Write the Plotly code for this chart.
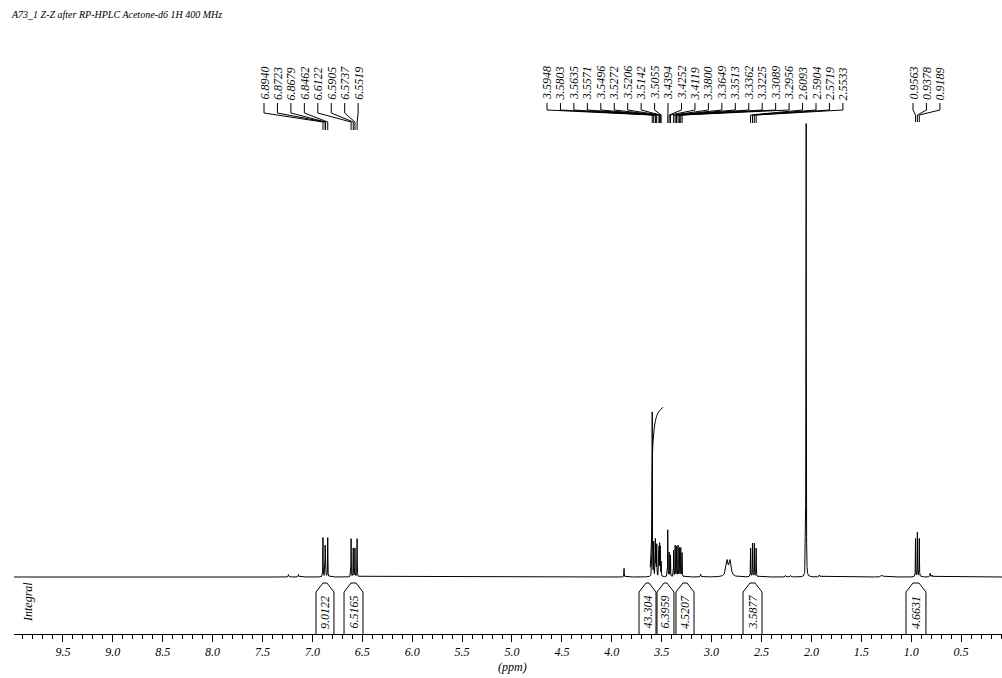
import numpy as np
import plotly.graph_objects as go

title_text = "A73_1 Z-Z after RP-HPLC Acetone-d6 1H 400 MHz"

# ---- peak list (ppm, relative height, half width) ----
peak_ppm = [7.24, 7.14,
            6.8940, 6.8723, 6.8679, 6.8462,
            6.6122, 6.5905, 6.5737, 6.5519,
            3.877,
            3.5948, 3.5803, 3.5635, 3.5571, 3.5496, 3.5272, 3.5206, 3.5142, 3.5055,
            3.4394, 3.4252, 3.4119,
            3.3800, 3.3649, 3.3513, 3.3362, 3.3225, 3.3089, 3.2956,
            3.11,
            2.845, 2.815,
            2.6093, 2.5904, 2.5719, 2.5533,
            2.26, 2.21,
            2.0522, 2.057,
            1.92, 1.29,
            0.9563, 0.9378, 0.9189,
            0.81, 0.79]
peak_height = [0.5, 0.5,
               8.2, 6.0, 6.0, 8.2,
               8.0, 6.0, 6.0, 8.0,
               1.8,
               34.5, 7.0, 7.5, 7.0, 6.5, 6.0, 6.5, 6.0, 3.0,
               9.8, 5.0, 4.5,
               5.5, 6.5, 6.3, 6.5, 6.0, 6.0, 5.0,
               0.6,
               3.2, 3.2,
               6.0, 7.0, 7.0, 6.0,
               0.3, 0.3,
               94.1, 11.0,
               0.4, 0.4,
               8.0, 9.3, 8.0,
               0.8, 0.4]
peak_width = [0.003, 0.003,
              0.0015, 0.0015, 0.0015, 0.0015,
              0.0015, 0.0015, 0.0015, 0.0015,
              0.0015,
              0.0015, 0.0015, 0.0015, 0.0015, 0.0015, 0.0015, 0.0015, 0.0015, 0.0015,
              0.0015, 0.0015, 0.0015,
              0.0015, 0.0015, 0.0015, 0.0015, 0.0015, 0.0015, 0.0015,
              0.003,
              0.012, 0.012,
              0.0015, 0.0015, 0.0015, 0.0015,
              0.004, 0.004,
              0.0013, 0.0015,
              0.004, 0.012,
              0.0015, 0.0015, 0.0015,
              0.003, 0.003]

# ---- peak picking labels ----
label_group_1 = ["6.8940", "6.8723", "6.8679", "6.8462", "6.6122", "6.5905", "6.5737", "6.5519"]
label_group_2 = ["3.5948", "3.5803", "3.5635", "3.5571", "3.5496", "3.5272", "3.5206", "3.5142",
                 "3.5055", "3.4394", "3.4252", "3.4119", "3.3800", "3.3649", "3.3513", "3.3362",
                 "3.3225", "3.3089", "3.2956", "2.6093", "2.5904", "2.5719", "2.5533"]
label_group_3 = ["0.9563", "0.9378", "0.9189"]

# ---- integrals ----
integral_labels = ["9.0122", "6.5165", "43.304", "6.3959", "4.5207", "3.5877", "4.6631"]
integral_from = [6.964, 6.683, 3.727, 3.547, 3.357, 2.685, 1.052]
integral_to = [6.784, 6.493, 3.557, 3.377, 3.176, 2.495, 0.852]

# integral curve drawn over the 3.6 ppm singlet
curve_ppm = [3.615, 3.602, 3.596, 3.590, 3.580, 3.567, 3.537, 3.487]
curve_val = [2.0, 8.0, 20.0, 27.0, 30.0, 32.3, 34.4, 35.6]

# ---- layout constants ----
W, H = 1002, 678
ML, MB = 14, 44
PLOT_H = H - MB
X_LEFT, X_RIGHT = 9.99, 0.09
PPX = (W - ML) / (X_LEFT - X_RIGHT)
BASE_PX = 577.0
SCALE = 4.77          # pixels per intensity unit
Y_LO = -(PLOT_H - BASE_PX) / SCALE
Y_HI = BASE_PX / SCALE

FONT = "Liberation Serif"


def px_to_ppm(px):
    return X_LEFT - (px - ML) / PPX


def py_to_val(py):
    return (BASE_PX - py) / SCALE


def py_to_paper(py):
    return (PLOT_H - py) / PLOT_H


# ---- spectrum ----
x = np.arange(X_RIGHT, X_LEFT, 0.0005)
x = np.unique(np.concatenate([x, np.array(peak_ppm)]))
y = np.zeros_like(x)
for c, h, w in zip(peak_ppm, peak_height, peak_width):
    y += h / (1.0 + ((x - c) / w) ** 2)

fig = go.Figure()
fig.add_trace(go.Scatter(x=x, y=y, mode="lines", line=dict(color="black", width=1),
                         hoverinfo="skip", showlegend=False))
fig.add_trace(go.Scatter(x=curve_ppm, y=curve_val, mode="lines", line=dict(color="black", width=1),
                         line_shape="spline", hoverinfo="skip", showlegend=False))

# ---- peak labels and leader lines ----
groups = [
    (label_group_1, 264.0, 113.0, 122.0, 130.0),
    (label_group_2, 547.0, 110.0, 115.0, 123.0),
    (label_group_3, 913.0, 110.0, 115.0, 122.0),
]
SPACING = 13.45
LABEL_BOTTOM = 101.0
lx, ly = [], []
annotations = []
for labels, start_px, tick_bot, mark_top, mark_bot in groups:
    for i, lab in enumerate(labels):
        lab_px = start_px + i * SPACING
        lab_ppm = px_to_ppm(lab_px)
        pk = float(lab)
        lx += [lab_ppm, lab_ppm, pk, pk, None]
        ly += [py_to_val(LABEL_BOTTOM + 2), py_to_val(tick_bot), py_to_val(mark_top),
               py_to_val(mark_bot), None]
        annotations.append(dict(x=lab_ppm, y=py_to_paper(LABEL_BOTTOM), xref="x", yref="paper",
                                text=lab, textangle=-90, showarrow=False,
                                xanchor="center", yanchor="bottom", borderpad=0,
                                font=dict(family=FONT, size=12, color="black", style="italic")))
fig.add_trace(go.Scatter(x=lx, y=ly, mode="lines", line=dict(color="black", width=1),
                         hoverinfo="skip", showlegend=False))

# ---- integral boxes ----
shapes = []
INSET = 7.0 / PPX
for lab, a, b in zip(integral_labels, integral_from, integral_to):
    y_side = py_to_paper(592)
    y_top = py_to_paper(583)
    path = (f"M {a},0 L {a},{y_side} L {a - INSET},{y_top} L {b + INSET},{y_top} "
            f"L {b},{y_side} L {b},0")
    shapes.append(dict(type="path", path=path, xref="x", yref="paper",
                       line=dict(color="black", width=1)))
    annotations.append(dict(x=(a + b) / 2, y=py_to_paper(612), xref="x", yref="paper",
                            text=lab, textangle=-90, showarrow=False,
                            xanchor="center", yanchor="middle",
                            font=dict(family=FONT, size=12, color="black", style="italic")))

annotations.append(dict(x=px_to_ppm(28), y=py_to_paper(602), xref="x", yref="paper",
                        text="Integral", textangle=-90, showarrow=False,
                        xanchor="center", yanchor="middle",
                        font=dict(family=FONT, size=12, color="black", style="italic")))
annotations.append(dict(x=0, y=py_to_paper(15), xref="paper", yref="paper", xshift=-5,
                        text=title_text, showarrow=False, xanchor="left", yanchor="middle",
                        font=dict(family=FONT, size=10, color="black", style="italic")))
annotations.append(dict(x=px_to_ppm(512), y=py_to_paper(667), xref="x", yref="paper",
                        text="(ppm)", showarrow=False, xanchor="center", yanchor="middle",
                        font=dict(family=FONT, size=12, color="black", style="italic")))

fig.update_layout(
    width=W, height=H,
    margin=dict(l=ML, r=0, t=0, b=MB, pad=0),
    paper_bgcolor="white", plot_bgcolor="white",
    showlegend=False,
    shapes=shapes,
    annotations=annotations,
    xaxis=dict(range=[X_LEFT, X_RIGHT], showgrid=False, zeroline=False,
               showline=True, linecolor="black", linewidth=1,
               ticks="outside", ticklen=7, tickwidth=1, tickcolor="black",
               tick0=0, dtick=0.5, tickformat=".1f",
               tickfont=dict(family=FONT, size=12, color="black", style="italic"),
               minor=dict(dtick=0.1, tick0=0, ticks="outside", ticklen=4,
                          tickcolor="black", tickwidth=1, showgrid=False)),
    yaxis=dict(range=[Y_LO, Y_HI], visible=False, showgrid=False, zeroline=False),
)

fig.write_html("out.html")
